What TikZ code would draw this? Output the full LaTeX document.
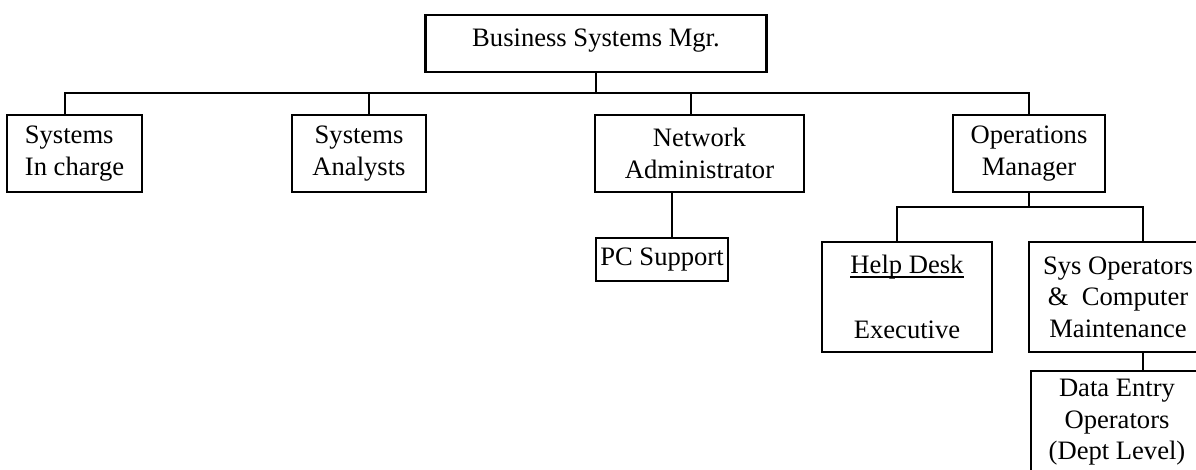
\documentclass[tikz,border=0pt]{standalone}
\usepackage{fontspec}
\setmainfont{Liberation Serif}
\usetikzlibrary{positioning}

\tikzset{
  orgbox/.style={draw, line width=2.4pt, inner sep=0pt, align=center,
    font=\fontsize{26.6}{31.5}\selectfont},
  orglink/.style={line width=2.4pt}
}
\newsavebox{\deskbox}
\newcommand{\wordline}[1]{\sbox{\deskbox}{#1}\rlap{\rule[-3.8pt]{\wd\deskbox}{1.4pt}}\usebox{\deskbox}}

\begin{document}
\begin{tikzpicture}[x=1pt,y=-1pt]
  \useasboundingbox (0,0) rectangle (1196,470);
  \clip (0,0) rectangle (1196,470);
  \fill[white] (0,0) rectangle (1196,470);

  % Top manager
  \node[orgbox, minimum width=341pt, minimum height=57pt, text depth=11pt] (bsm) at (596,43.5) {Business Systems Mgr.};

  % First level
  \node[orgbox, align=left, minimum width=135pt, minimum height=77pt] (sic) at (74.5,153.5) {Systems\\In charge};
  \node[orgbox, minimum width=134pt, minimum height=77pt] (sa) at (359,153.5) {Systems\\Analysts};
  \node[orgbox, minimum width=209pt, minimum height=77pt] (na) at (699.5,153.5) {Network\\Administrator};
  \node[orgbox, minimum width=152pt, minimum height=77pt] (om) at (1029,153.5) {Operations\\Manager};

  % Second level
  \node[orgbox, minimum width=132pt, minimum height=43pt] (pcs) at (662,259.5) {PC Support};
  \node[orgbox, minimum width=170pt, minimum height=110pt] (hd) at (907,297) {\wordline{Help Desk}\\[33pt]Executive};
  \node[orgbox, minimum width=178pt, minimum height=110pt] (so) at (1118,297) {Sys Operators\\\&\ \ Computer\\Maintenance};

  % Third level
  \node[orgbox, minimum width=172pt, minimum height=103pt] (de) at (1117,422.5) {Data Entry\\Operators\\(Dept Level)};

  % Main bus
  \coordinate (busL) at (65,93);
  \coordinate (busR) at (1029,93);
  \draw[orglink] (bsm.south) -- (bsm.south |- busL);
  \draw[orglink] (busL |- sic.north) -- (busL) -- (busR) -- (om.north);
  \draw[orglink] ([xshift=10pt]sa.north |- busL) -- ([xshift=10pt]sa.north);
  \draw[orglink] ([xshift=-8.5pt]na.north |- busL) -- ([xshift=-8.5pt]na.north);
  \draw[orglink] ([xshift=-27.5pt]na.south) -- ([xshift=10pt]pcs.north);

  % Operations bus
  \coordinate (subL) at (897,207);
  \coordinate (subR) at (1143,207);
  \draw[orglink] (om.south) -- (om.south |- subL);
  \draw[orglink] (subL |- hd.north) -- (subL) -- (subR) -- (subR |- so.north);
  \draw[orglink] (subR |- so.south) -- (subR |- de.north);
\end{tikzpicture}
\end{document}
